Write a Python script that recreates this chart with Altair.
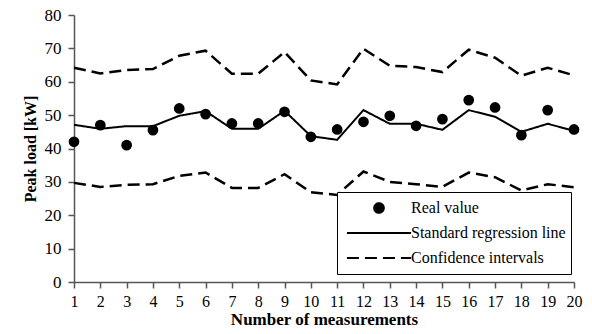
import altair as alt
import pandas as pd

# ---- data ----
measurement = list(range(1, 21))
real_value = [42.0, 47.0, 41.0, 45.5, 52.0, 50.3, 47.5, 47.5, 51.0, 43.5,
              45.7, 48.0, 49.8, 46.8, 48.8, 54.5, 52.3, 44.0, 51.5, 45.7]
regression = [47.1, 45.9, 46.7, 46.7, 49.8, 51.2, 45.9, 45.9, 51.3, 43.7,
              42.6, 51.5, 47.4, 47.4, 45.6, 51.5, 49.5, 45.0, 47.4, 45.3]
upper_ci = [64.2, 62.5, 63.5, 63.8, 67.8, 69.3, 62.4, 62.4, 68.9, 60.4,
            59.2, 69.9, 64.8, 64.4, 62.9, 69.6, 67.2, 61.8, 64.2, 61.9]
lower_ci = [29.7, 28.5, 29.1, 29.3, 31.8, 32.8, 28.2, 28.2, 32.3, 26.9,
            26.1, 33.1, 30.0, 29.3, 28.5, 32.8, 31.4, 27.4, 29.3, 28.4]
series_names = ["Real value", "Standard regression line", "Confidence intervals"]
y_ticks = [0, 10, 20, 30, 40, 50, 60, 70, 80]

reg_df = pd.DataFrame({"x": measurement, "y": regression,
                       "series": [series_names[1]] * 20, "group": ["reg"] * 20})
ci_df = pd.DataFrame({"x": measurement * 2, "y": upper_ci + lower_ci,
                      "series": [series_names[2]] * 40,
                      "group": ["upper"] * 20 + ["lower"] * 20})
pts_df = pd.DataFrame({"x": measurement, "y": real_value})

FONT = "Liberation Serif"
LINE_PATH = "M-3,0H3"
CIRCLE_PATH = ("M0.45,0C0.45,0.2485 0.2485,0.45 0,0.45C-0.2485,0.45 -0.45,0.2485 -0.45,0"
               "C-0.45,-0.2485 -0.2485,-0.45 0,-0.45C0.2485,-0.45 0.45,-0.2485 0.45,0Z")

x_enc = alt.X("x:Q", scale=alt.Scale(domain=[1, 20], nice=False, zero=False),
              axis=alt.Axis(values=measurement, title="Number of measurements",
                            labelFlush=False, labelOverlap=False, labelFontSize=16,
                            labelPadding=5, titlePadding=2, titleFontSize=17))
y_enc = alt.Y("y:Q", scale=alt.Scale(domain=[0, 80], nice=False),
              axis=alt.Axis(values=y_ticks, title="Peak load [kW]",
                            labelPadding=7, titlePadding=6, titleFontSize=16))

legend = alt.Legend(
    title=None, orient="none", legendX=263, legendY=177,
    symbolType=alt.ExprRef(expr="datum.value === 'Real value' ? '" + CIRCLE_PATH + "' : '" + LINE_PATH + "'"),
    symbolFillColor=alt.ExprRef(expr="datum.value === 'Real value' ? 'black' : 'transparent'"),
    symbolSize=457, symbolStrokeWidth=2,
    symbolStrokeColor="black", symbolOffset=25, labelOffset=20,
    clipHeight=22, rowPadding=3, padding=5,
    fillColor="white", strokeColor="black",
    labelFont=FONT, labelFontSize=16, labelColor="black", labelLimit=0,
)
dash = alt.StrokeDash("series:N",
                      scale=alt.Scale(domain=series_names, range=[[1, 0], [1, 0], [12, 6]]),
                      legend=legend)

ci = alt.Chart(ci_df).mark_line(color="black", strokeWidth=2.5).encode(
    x=x_enc, y=y_enc, strokeDash=dash, detail="group:N")
reg = alt.Chart(reg_df).mark_line(color="black", strokeWidth=2).encode(
    x=x_enc, y=y_enc, strokeDash=dash, detail="group:N")
pts = alt.Chart(pts_df).mark_circle(color="black", size=115, opacity=1).encode(
    x=x_enc, y=y_enc)

chart = alt.layer(ci, reg, pts).properties(
    width=500, height=267,
    padding={"left": 74, "top": 15, "right": 18, "bottom": 52},
    autosize=alt.AutoSizeParams(type="none"),
    background="white",
).configure_view(stroke=None).configure_axis(
    grid=False, domainColor="#555", domainWidth=1.5, tickColor="#555",
    tickWidth=1.5, tickSize=6, labelFont=FONT, titleFont=FONT,
    labelFontSize=17, labelColor="black", titleColor="black",
    titleFontWeight="bold",
)

chart.save("out.html", embed_options={"renderer": "svg", "actions": False})
